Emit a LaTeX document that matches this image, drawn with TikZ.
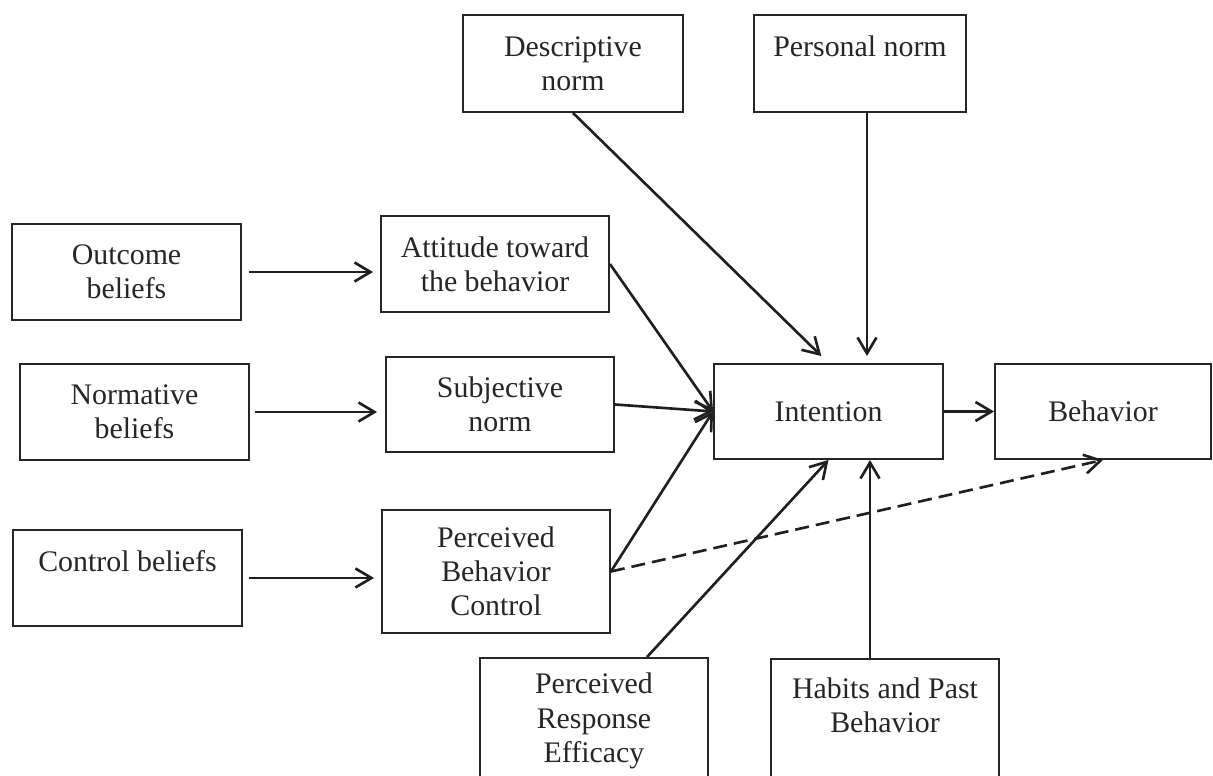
\documentclass[tikz,border=0pt]{standalone}
\usepackage{fontspec}
\setmainfont{Liberation Serif}
\usetikzlibrary{arrows.meta,calc,positioning}
\tikzset{%
	factor/.style   = {draw=black!85, rectangle, line width=1.1pt, minimum width=4.58cm, minimum height=1.92cm, align=center, text=black!85, font=\fontsize{17}{19.5}\selectfont},
	arrow/.style    = {draw=black!88, line width=1.5pt, -{Straight Barb[length=3.2mm,width=3.8mm]}},
	dasharrow/.style = {arrow, dash pattern=on 2.8mm off 1.4mm},
}
\begin{document}
\begin{tikzpicture}[x=0.02cm,y=0.02cm]
	\useasboundingbox (0,0) rectangle (1213,776);
	
	\node[factor, minimum width=4.4cm, minimum height=1.94cm] (desc) at (573,712.5) {Descriptive\\norm};
	\node[factor, minimum width=4.24cm, minimum height=1.94cm] (pers) at (860,712.5) {Personal norm\\\mbox{}};
	
	\node[factor] (outc) at (126.5,504) {Outcome\\beliefs};
	\node[factor] (norm) at (134.5,364) {Normative\\beliefs};
	\node[factor] (ctrl) at (127.5,198) {Control beliefs\\\mbox{}};
	
	\node[factor, minimum width=4.56cm] (att) at (495,512) {Attitude toward\\the behavior};
	\node[factor, minimum width=4.56cm, minimum height=1.9cm] (subj) at (500,371.5) {Subjective\\norm};
	\node[factor, minimum width=4.56cm, minimum height=2.46cm] (pbc) at (496,204.5) {Perceived\\Behavior\\Control};
	
	\node[factor, minimum height=1.9cm] (int) at (828.5,364.5) {Intention};
	\node[factor, minimum width=4.32cm, minimum height=1.9cm] (beh) at (1103,364.5) {Behavior};
	
	\node[factor, minimum width=4.56cm, minimum height=2.52cm] (eff) at (594,55) {Perceived\\Response\\Efficacy};
	\node[factor, minimum width=4.56cm, minimum height=2.52cm] (hab) at (885,54) {Habits and Past\\Behavior\\\mbox{}};
	
	\draw[arrow, shorten <=1.4mm, shorten >=1.4mm] (outc.east) -- (outc.east -| att.west);
	\draw[arrow, shorten <=1mm, shorten >=1.6mm] (norm.east) -- (norm.east -| subj.west);
	\draw[arrow, shorten <=1.2mm, shorten >=1.4mm] (ctrl.east) -- (ctrl.east -| pbc.west);
	
	\draw[arrow] (att.east) -- (int.west);
	\draw[arrow] (subj.east) -- (int.west);
	\draw[arrow] (pbc.east) -- (int.west);
	
	\draw[arrow, shorten >=2mm] (desc.south) -- (int.north);
	\coordinate (perbot) at ($(pers.south)+(7,0)$);
	\draw[arrow, shorten >=1.4mm] (perbot) -- (perbot |- int.north);
	
	\coordinate (efftop) at ($(eff.north)+(53,0)$);
	\draw[arrow] (efftop) -- (int.south);
	\coordinate (habtop) at ($(hab.north)+(-15,0)$);
	\draw[arrow] (habtop) -- (habtop |- int.south);
	
	\draw[arrow] (int.east) -- (beh.west);
	\draw[dasharrow] (pbc.east) -- (beh.south);
\end{tikzpicture}
\end{document}
